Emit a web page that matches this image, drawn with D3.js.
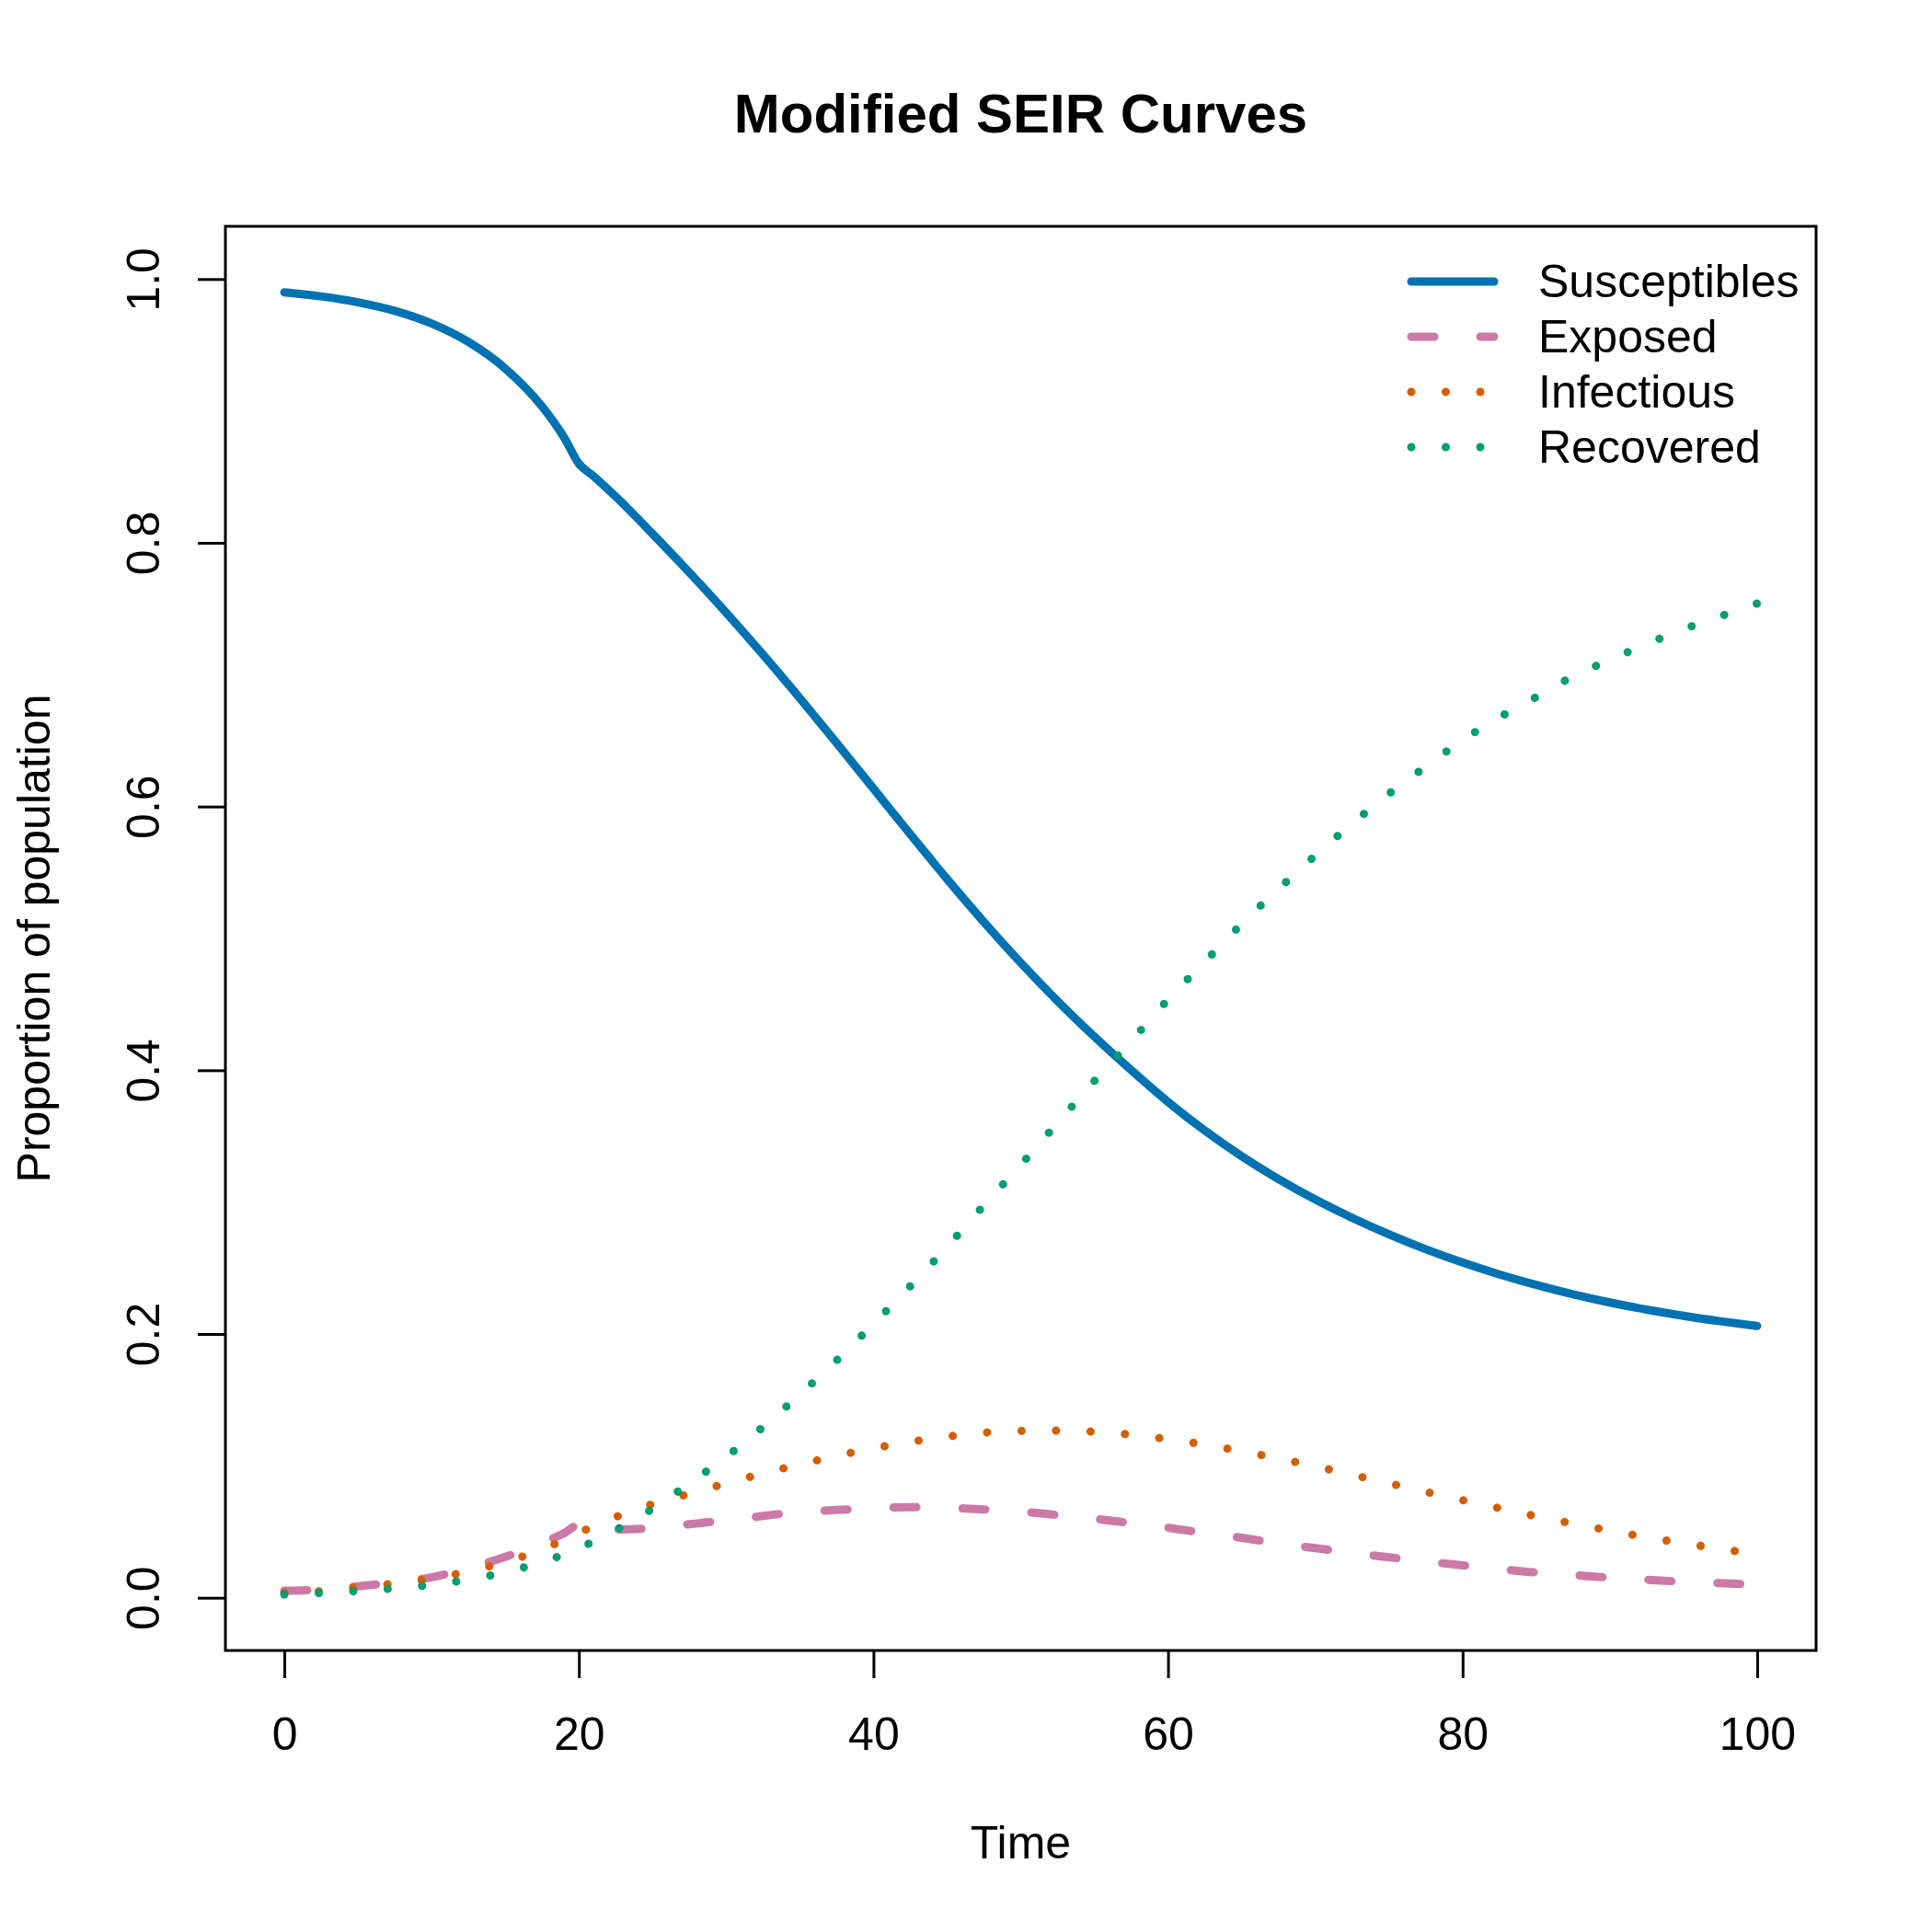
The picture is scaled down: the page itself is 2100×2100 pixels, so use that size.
<!DOCTYPE html>
<html>
<head>
<meta charset="utf-8">
<script src="https://cdn.jsdelivr.net/npm/d3@7"></script>
<style>
  body { margin: 0; background: #fff; }
  text { font-family: "Liberation Sans", Arial, Helvetica, sans-serif; fill: #000; }
</style>
</head>
<body>
<svg id="chart"></svg>
<script>
// values
const time = [0, 2.5, 5, 7.5, 10, 12.5, 15, 17.5, 19, 20, 21, 22.5, 25, 27.5, 30, 32.5, 35, 37.5,
  40, 42.5, 45, 47.5, 50, 52.5, 55, 57.5, 60, 62.5, 65, 67.5, 70, 72.5, 75, 77.5, 80, 82.5,
  85, 87.5, 90, 92.5, 95, 97.5, 100];

const susceptibles = [0.9900, 0.9869, 0.9824, 0.9759, 0.9663, 0.9523, 0.9322, 0.9034, 0.8798,
  0.8600, 0.8505, 0.8350, 0.8068, 0.7775, 0.7470, 0.7152, 0.6822, 0.6482, 0.6136, 0.5790,
  0.5450, 0.5124, 0.4815, 0.4525, 0.4255, 0.4001, 0.3760, 0.3542, 0.3348, 0.3175, 0.3020,
  0.2881, 0.2756, 0.2643, 0.2542, 0.2452, 0.2372, 0.2301, 0.2239, 0.2185, 0.2138, 0.2097,
  0.2061];

const exposed = [0.0054, 0.0062, 0.0087, 0.0117, 0.0155, 0.0225, 0.0310, 0.0418, 0.0490, 0.0552,
  0.0528, 0.0518, 0.0527, 0.0558, 0.0587, 0.0620, 0.0650, 0.0665, 0.0680, 0.0686, 0.0681,
  0.0670, 0.0654, 0.0627, 0.0599, 0.0565, 0.0531, 0.0491, 0.0455, 0.0412, 0.0376, 0.0341,
  0.0307, 0.0275, 0.0246, 0.0218, 0.0191, 0.0172, 0.0152, 0.0137, 0.0121, 0.0111, 0.0098];

const infectious = [0.0037, 0.0050, 0.0079, 0.0108, 0.0145, 0.0200, 0.0272, 0.0366, 0.0440,
  0.0492, 0.0542, 0.0612, 0.0710, 0.0788, 0.0867, 0.0942, 0.1011, 0.1076, 0.1133, 0.1182,
  0.1222, 0.1252, 0.1265, 0.1267, 0.1259, 0.1237, 0.1202, 0.1161, 0.1111, 0.1056, 0.0997,
  0.0932, 0.0868, 0.0803, 0.0740, 0.0679, 0.0618, 0.0562, 0.0509, 0.0459, 0.0413, 0.0371,
  0.0328];

const recovered = [0.0025, 0.0036, 0.0051, 0.0071, 0.0099, 0.0138, 0.0194, 0.0271, 0.0330,
  0.0377, 0.0427, 0.0513, 0.0675, 0.0867, 0.1069, 0.1295, 0.1542, 0.1800, 0.2077, 0.2363,
  0.2661, 0.2977, 0.3283, 0.3601, 0.3919, 0.4222, 0.4536, 0.4824, 0.5110, 0.5375, 0.5629,
  0.5870, 0.6097, 0.6303, 0.6503, 0.6676, 0.6831, 0.6987, 0.7112, 0.7232, 0.7345, 0.7443,
  0.7540];

const seriesNames = ['Susceptibles', 'Exposed', 'Infectious', 'Recovered'];
const xTicks = [0, 20, 40, 60, 80, 100];
const yTicks = [0, 0.2, 0.4, 0.6, 0.8, 1.0];

const width = 2100;
const height = 2100;
const box = { left: 245, right: 1974, top: 246, bottom: 1794 };
const lineWidth = 9;

const styles = [
  { color: '#0072B2', dash: null },
  { color: '#CC79A7', dash: '25,50' },
  { color: '#D55E00', dash: '0.01,37.5' },
  { color: '#009E73', dash: '0.01,37.5' },
];

const seriesValues = [susceptibles, exposed, infectious, recovered];

const scaleX = d3.scaleLinear()
  .domain([-4, 104])
  .range([box.left, box.right]);

const scaleY = d3.scaleLinear()
  .domain([-0.04, 1.04])
  .range([box.bottom, box.top]);

const svg = d3.select('#chart')
  .attr('width', width)
  .attr('height', height);

svg.append('rect')
  .attr('width', width)
  .attr('height', height)
  .attr('fill', '#fff');

const line = d3.line()
  .x((d, i) => scaleX(time[i]))
  .y(d => scaleY(d))
  .curve(d3.curveMonotoneX);

svg.selectAll('path.series')
  .data(seriesValues)
  .enter().append('path')
  .attr('class', 'series')
  .attr('d', line)
  .attr('fill', 'none')
  .attr('stroke', (d, i) => styles[i].color)
  .attr('stroke-width', lineWidth)
  .attr('stroke-linecap', 'round')
  .attr('stroke-linejoin', 'round')
  .attr('stroke-dasharray', (d, i) => styles[i].dash);

// plot frame
svg.append('rect')
  .attr('x', box.left)
  .attr('y', box.top)
  .attr('width', box.right - box.left)
  .attr('height', box.bottom - box.top)
  .attr('fill', 'none')
  .attr('stroke', '#000')
  .attr('stroke-width', 3);

// axes
const xAxis = svg.append('g')
  .attr('transform', `translate(0,${box.bottom})`)
  .call(d3.axisBottom(scaleX).tickValues(xTicks).tickSize(30).tickFormat(d3.format('d')));

xAxis.select('.domain').remove();
xAxis.selectAll('line').attr('stroke-width', 3);
xAxis.selectAll('text')
  .attr('y', 108)
  .attr('dy', null)
  .attr('font-size', 50)
  .attr('font-family', null);

const yAxis = svg.append('g')
  .attr('transform', `translate(${box.left},0)`)
  .call(d3.axisLeft(scaleY).tickValues(yTicks).tickSize(30).tickFormat(d3.format('.1f')));

yAxis.select('.domain').remove();
yAxis.selectAll('line').attr('stroke-width', 3);
yAxis.selectAll('text')
  .attr('x', null)
  .attr('dy', null)
  .attr('text-anchor', 'middle')
  .attr('transform', 'translate(-72,0) rotate(-90)')
  .attr('font-size', 50)
  .attr('font-family', null);

// titles
svg.append('text')
  .attr('x', (box.left + box.right) / 2)
  .attr('y', 144)
  .attr('text-anchor', 'middle')
  .attr('font-size', 60)
  .attr('font-weight', 'bold')
  .text('Modified SEIR Curves');

svg.append('text')
  .attr('x', (box.left + box.right) / 2)
  .attr('y', 2020)
  .attr('text-anchor', 'middle')
  .attr('font-size', 50)
  .text('Time');

svg.append('text')
  .attr('transform', `translate(54,${(box.top + box.bottom) / 2}) rotate(-90)`)
  .attr('text-anchor', 'middle')
  .attr('font-size', 50)
  .text('Proportion of population');

// legend
const legend = svg.selectAll('g.legend')
  .data(seriesNames)
  .enter().append('g')
  .attr('class', 'legend')
  .attr('transform', (d, i) => `translate(0,${323 + i * 60})`);

legend.append('line')
  .attr('x1', 1534)
  .attr('x2', 1624)
  .attr('y1', -17)
  .attr('y2', -17)
  .attr('stroke', (d, i) => styles[i].color)
  .attr('stroke-width', lineWidth)
  .attr('stroke-linecap', 'round')
  .attr('stroke-dasharray', (d, i) => styles[i].dash);

legend.append('text')
  .attr('x', 1672)
  .attr('y', 0)
  .attr('font-size', 50)
  .text(d => d);
</script>
</body>
</html>
